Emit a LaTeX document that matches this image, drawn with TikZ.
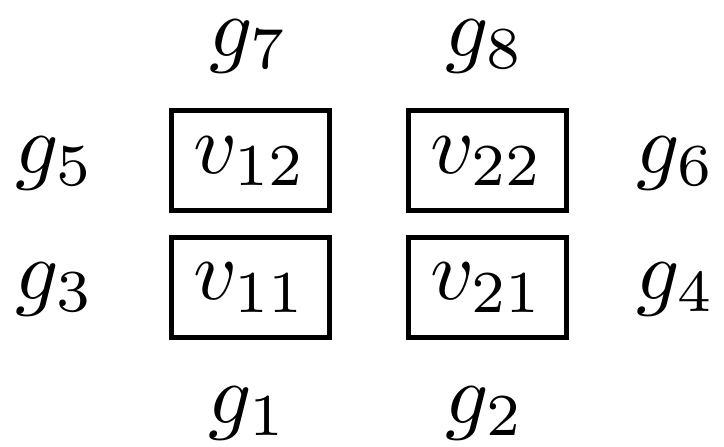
\documentclass[tikz,border=0pt]{standalone}
\usepackage{graphicx}
\newcommand{\bigmath}[1]{\scalebox{4.25}{$#1$}}
\begin{document}
\begin{tikzpicture}[x=0.5pt,y=-0.5pt,
  lbl/.style={inner sep=0pt,anchor=base},
  vbox/.style={draw,line width=2.5pt,inner sep=0pt,minimum width=79pt,minimum height=50pt,
    text height=20pt,text depth=7.5pt}]
\useasboundingbox (0,0) rectangle (724,446);
\node[vbox] (v12) at (250,160.5) {\bigmath{v_{12}}};
\node[vbox] (v22) at (487,160.5) {\bigmath{v_{22}}};
\node[vbox] (v11) at (250,287) {\bigmath{v_{11}}};
\node[vbox] (v21) at (487,287) {\bigmath{v_{21}}};
\node[lbl] (g7) at (249,56) {\bigmath{g_7}};
\node[lbl] (g8) at (485,56) {\bigmath{g_8}};
\node[lbl] (g5) at (55,173) {\bigmath{g_5}};
\node[lbl] (g6) at (676,173) {\bigmath{g_6}};
\node[lbl] (g3) at (55,299) {\bigmath{g_3}};
\node[lbl] (g4) at (676,299) {\bigmath{g_4}};
\node[lbl] (g1) at (248,423) {\bigmath{g_1}};
\node[lbl] (g2) at (485,423) {\bigmath{g_2}};
\end{tikzpicture}
\end{document}
